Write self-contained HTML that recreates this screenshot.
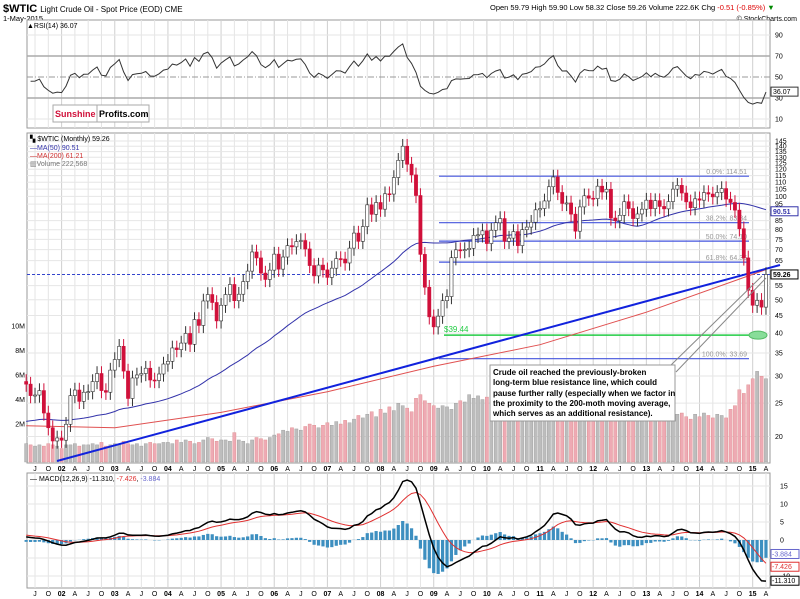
<!DOCTYPE html>
<html><head><meta charset="utf-8"><style>
body{margin:0;background:#fff;width:800px;height:599px;overflow:hidden;font-family:"Liberation Sans",sans-serif}
svg{display:block}
</style></head><body>
<svg id="c" width="800" height="599" viewBox="0 0 800 599" xmlns="http://www.w3.org/2000/svg" font-family="Liberation Sans, sans-serif">
<text x="3" y="12" font-size="11" font-weight="bold">$WTIC <tspan font-size="8" font-weight="normal">Light Crude Oil - Spot Price (EOD) CME</tspan></text>
<text x="3" y="21" font-size="7.5">1-May-2015</text>
<text x="490" y="10" font-size="7.5">Open 59.79  High 59.90  Low 58.32  Close 59.26  Volume 222.6K  Chg <tspan fill="#d00">-0.51 (-0.85%)</tspan> <tspan fill="#080">▼</tspan></text>
<text x="797" y="21" font-size="7" text-anchor="end">© StockCharts.com</text>
<g id="g"></g>
<g>
<rect x="53" y="105" width="96" height="17" fill="#fff" stroke="#aaa"/>
<line x1="97" y1="105" x2="97" y2="122" stroke="#aaa"/>
<text x="55" y="117" font-size="9" font-weight="bold" fill="#d0103a">Sunshine</text>
<text x="99" y="117" font-size="9" font-weight="bold">Profits.com</text>
</g>
<g font-size="7">
<text x="30" y="141">▚ $WTIC (Monthly) 59.26</text>
<text x="30" y="150" fill="#33a">—MA(50) 90.51</text>
<text x="30" y="158" fill="#d03030">—MA(200) 61.21</text>
<text x="30" y="166" fill="#777">▥Volume 222,568</text>
</g>
<text x="27" y="28" font-size="7">▲RSI(14) 36.07</text>
<text x="30" y="481" font-size="7">— MACD(12,26,9) -11.310, <tspan fill="#e03030">-7.426</tspan>, <tspan fill="#66c">-3.884</tspan></text>
<g>
<line x1="670" y1="366" x2="762" y2="276" stroke="#888" stroke-width="1"/>
<line x1="676" y1="372" x2="766" y2="278" stroke="#888" stroke-width="1"/>
<rect x="490" y="365" width="185" height="56" fill="#fff" stroke="#999"/>
<text font-size="8" font-weight="bold" x="493">
<tspan x="493" y="375">Crude oil reached the previously-broken</tspan>
<tspan x="493" y="385">long-term blue resistance line, which could</tspan>
<tspan x="493" y="396">pause further rally (especially when we factor in</tspan>
<tspan x="493" y="406">the proximity to the 200-moth moving average,</tspan>
<tspan x="493" y="416">which serves as an additional resistance).</tspan>
</text>
</g>
</svg>
<script>
const closes=[28.4,26.3,26.4,27.2,23.4,21.2,19.4,19.8,
19.5,21.7,26.3,27.3,25.3,26.9,27.0,28.9,30.5,27.2,26.9,31.2,
33.5,36.6,31.0,25.8,29.6,30.2,30.5,31.6,29.2,29.1,30.4,32.5,
33.1,36.2,35.8,37.4,39.9,37.1,43.8,42.1,49.6,51.8,49.1,43.4,
48.2,51.8,55.4,49.7,51.9,56.5,60.6,68.9,66.2,59.8,57.3,61.0,
67.9,61.4,66.6,71.9,71.3,73.9,74.4,70.3,62.9,58.7,63.1,61.1,
58.1,61.8,65.9,65.7,64.0,70.7,78.2,74.0,81.7,94.5,88.7,96.0,
91.8,101.8,101.6,113.5,127.4,140.0,124.1,115.5,100.6,67.8,54.4,44.6,
41.7,44.8,49.7,51.1,66.3,69.9,69.5,70.0,70.6,77.0,77.3,79.4,
72.9,79.7,83.8,86.2,74.0,75.6,79.0,71.9,80.0,81.4,84.1,91.4,
92.2,97.0,106.7,113.9,102.7,95.4,95.7,88.8,79.2,93.2,100.4,98.8,
98.5,107.1,103.0,104.9,86.5,85.0,88.1,96.5,92.2,86.2,88.9,91.8,
97.5,92.1,97.2,93.5,92.0,96.6,105.0,107.7,102.3,96.4,92.7,98.4,
97.5,102.6,101.6,99.7,102.7,105.4,98.2,96.0,91.2,80.5,66.2,53.3,
48.2,49.8,47.6,59.26];
const volumes=[1.5,1.4,1.3,1.4,1.3,1.5,1.4,1.3,
1.1,1.4,1.4,1.5,1.3,1.4,1.4,1.5,1.4,1.6,1.3,1.4,
1.5,1.4,1.7,1.5,1.4,1.5,1.3,1.5,1.6,1.5,1.5,1.6,
1.6,1.5,1.8,1.6,1.8,1.7,1.5,1.6,1.8,2.0,1.9,1.7,
1.8,1.8,1.7,2.4,1.8,1.7,1.5,1.8,2.0,1.9,1.8,2.0,
2.2,2.3,2.6,2.5,2.8,2.7,2.6,2.9,3.1,3.0,2.8,3.0,
3.2,3.0,3.3,3.1,3.4,3.2,3.5,3.8,3.6,3.9,4.1,3.7,
4.3,4.0,4.5,4.2,4.8,4.6,4.4,4.1,5.2,5.5,5.0,4.8,
4.6,4.4,4.6,4.5,4.3,4.8,5.0,4.9,5.5,5.2,5.4,5.1,
5.3,5.0,5.2,5.4,5.9,5.1,4.9,5.2,5.3,5.0,5.4,5.2,
5.4,5.6,5.8,5.3,6.0,5.7,5.5,5.9,5.6,5.3,5.2,4.9,
5.1,5.3,4.9,5.0,5.4,5.3,4.8,4.9,4.6,4.8,4.4,4.2,
4.0,4.1,3.8,4.2,3.9,4.3,3.5,3.9,4.0,3.7,3.5,3.9,
3.7,4.0,3.8,3.6,3.9,3.8,3.6,4.3,4.6,5.9,5.6,6.3,
6.8,7.4,7.0,6.8];
const ma200Months=[0,20,44,68,92,116,140,167];
const ma200Values=[21.5,21.2,23.5,27,32,37,46,61.2];
const priceTicks=[145,140,135,130,125,120,115,110,105,100,95,90,85,80,75,70,65,55,50,45,40,35,30,25,20];
const volTicks=["10M","8M","6M","4M","2M"];
const volTickVals=[10,8,6,4,2];
const rsiTicks=[90,70,50,30,10];
const macdTicks=[15,10,5,0,-5,-10];
const fibLevels=[114.51,83.84,74.10,64.36,33.69];
const fibLabels=["0.0%: 114.51","38.2%: 83.84","50.0%: 74.10","61.8%: 64.36","100.0%: 33.69"];
const supportLevel=39.44;
const firstYear=2001, firstMonth=4; // May 2001

const NS="http://www.w3.org/2000/svg";
const G=document.getElementById('g');
function mk(tag,a,parent){const e=document.createElementNS(NS,tag);for(const k in a)e.setAttribute(k,a[k]);(parent||G).appendChild(e);return e;}
const L=27,R=770;
const X=i=>61.6+(i-8)*4.43;
const PY=p=>141+343.4*Math.log10(145/p);
const VY=v=>462-12.25*v;
const VLY=v=>448.5-12.25*v;
const RY=r=>35+(90-r)*1.05;
const MY=m=>540-m*3.6;

[[20,128],[133,463],[473,588]].forEach((p,k)=>{
 const r=mk('rect',{x:L,y:p[0],width:R-L,height:p[1]-p[0],fill:'#fff',stroke:'#999','stroke-width':1});
 
 
});
const mlabels=['J','F','M','A','M','J','J','A','S','O','N','D'];
for(let i=0;i<closes.length;i++){
 const m=(firstMonth+i)%12, y=firstYear+Math.floor((firstMonth+i)/12);
 if(m%3!==0)continue;
 const x=X(i);
 [[20,128],[133,463],[473,588]].forEach(p=>{
  const ln=mk('line',{x1:x,x2:x,y1:p[0],y2:p[1],stroke:m===0?'#cfcfcf':'#e4e4e4','stroke-width':1});
  
  
 });
 [471,596].forEach(yy=>{
  const t=mk('text',{x:x,y:yy,'font-size':7,'text-anchor':'middle','font-weight':m===0?'bold':'normal'});
  t.textContent=m===0?String(y).slice(2):mlabels[m];
  
  
 });
}
priceTicks.forEach(p=>{
 const y=PY(p);
 const ln=mk('line',{x1:L,x2:R,y1:y,y2:y,stroke:'#e6e6e6'});
 
 
 const t=mk('text',{x:775,y:y+2.5,'font-size':7});
 t.textContent=p;
 
 
});
volTicks.forEach((s,k)=>{
 const t=mk('text',{x:25,y:VLY(volTickVals[k])+2.5,'font-size':7,'text-anchor':'end'});
 t.textContent=s;
 
 
});
volumes.forEach((v,i)=>{
 const up=i===0||closes[i]>=closes[i-1];
 const b=mk('rect',{x:X(i)-1.6,y:VY(v),width:3.2,height:462-VY(v),fill:up?'#bdbdbd':'#eeaab4',stroke:up?'#999':'#d88'});
 b.setAttribute('stroke-width','0.4');
 
 
});
fibLevels.forEach((f,k)=>{
 const y=PY(f);
 const ln=mk('line',{x1:439,x2:749,y1:y,y2:y,stroke:'#4455dd','stroke-width':1.2});
 
 
 const t=mk('text',{x:747,y:y-2,'font-size':7,'text-anchor':'end',fill:'#999'});
 t.textContent=fibLabels[k];
 
 
});
{const y=PY(supportLevel);
 const ln=mk('line',{x1:444,x2:766,y1:y,y2:y,stroke:'#22cc44','stroke-width':1.5});
 
 
 const t=mk('text',{x:444,y:y-3,'font-size':8,fill:'#22cc44'});
 t.textContent='$39.44';
 
 
 const e=mk('ellipse',{cx:758,cy:y,rx:9,ry:4,fill:'#88dd99',stroke:'#55bb66'});
 
 
}
{const y=PY(closes[closes.length-1]);
 const ln=mk('line',{x1:L,x2:R,y1:y,y2:y,stroke:'#3344cc','stroke-dasharray':'3,2'});
 
 }
{let pts=ma200Months.map((m,k)=>X(m)+','+PY(ma200Values[k]).toFixed(1)).join(' ');
 const pl=mk('polyline',{points:pts,fill:'none',stroke:'#e05050','stroke-width':1});
 
 }
{let pts=[];for(let i=0;i<closes.length;i++){const s=closes.slice(Math.max(0,i-49),i+1);let a=s.reduce((x,y)=>x+y,0)/s.length;if(i<49)a=(a*s.length+22*(50-s.length))/50;pts.push(X(i)+','+PY(a).toFixed(1));}
 const pl=mk('polyline',{points:pts.join(' '),fill:'none',stroke:'#3333aa','stroke-width':1});
 
 }
{const tl=mk('line',{x1:57,y1:461,x2:780,y2:265,stroke:'#1122dd','stroke-width':2});
 
 }
closes.forEach((c,i)=>{
 const o=i===0?28.9:closes[i-1];const up=c>=o;
 const hi=Math.max(o,c)*1.05, lo=Math.min(o,c)*0.95;
 const x=X(i);
 const w=mk('line',{x1:x,x2:x,y1:PY(hi),y2:PY(lo),stroke:up?'#333':'#d0103a'});
 
 
 const t=PY(Math.max(o,c)),b=PY(Math.min(o,c));
 const r=mk('rect',{x:x-1.6,y:t,width:3.2,height:Math.max(1,b-t),fill:up?'#fff':'#d0103a',stroke:up?'#333':'#d0103a','stroke-width':0.6});
 
 
});
[[90.51,'90.51','#33a'],[59.26,'59.26','#000']].forEach(d=>{
 const y=PY(d[0]);
 const r=mk('rect',{x:771,y:y-4.5,width:27,height:9,fill:'#fff',stroke:d[2]});
 
 
 const t=mk('text',{x:773,y:y+2.5,'font-size':7,'font-weight':'bold',fill:d[2]});
 t.textContent=d[1];
 
 
});
rsiTicks.forEach(r=>{
 const y=RY(r);
 const st=(r===70||r===30)?{stroke:'#aaa','stroke-width':1.5}:r===50?{stroke:'#999','stroke-dasharray':'6,2,1,2'}:{stroke:'#e6e6e6'};
 const ln=mk('line',Object.assign({x1:L,x2:R,y1:y,y2:y},st));
 
 
 const t=mk('text',{x:775,y:y+2.5,'font-size':7});
 t.textContent=r;
 
 
});
{let ag=0.9,al=0.9,pts=[];
 for(let i=1;i<closes.length;i++){const d=closes[i]-closes[i-1];ag=(ag*13+Math.max(d,0))/14;al=(al*13+Math.max(-d,0))/14;const r=al===0?100:100-100/(1+ag/al);pts.push(X(i)+','+RY(r).toFixed(1));}
 const pl=mk('polyline',{points:pts.join(' '),fill:'none',stroke:'#333','stroke-width':1});
 
 }
{const r=mk('rect',{x:771,y:RY(36.07)-4.5,width:27,height:9,fill:'#fff',stroke:'#333'});
 
 
 const t=mk('text',{x:773,y:RY(36.07)+2.5,'font-size':7});t.textContent='36.07';
 
 }
macdTicks.forEach(m=>{
 const y=MY(m);
 const ln=mk('line',{x1:L,x2:R,y1:y,y2:y,stroke:'#e6e6e6'});
 
 
 if(m%5===0&&m!==-5){const t=mk('text',{x:780,y:y+2.5,'font-size':7});t.textContent=m;
 
 }
});
{let e12=closes[0]*0.97,e26=closes[0]*0.94,sig=1.5,mp=[],sp=[];
 const k12=2/13,k26=2/27,k9=2/10;
 closes.forEach((c,i)=>{e12+=k12*(c-e12);e26+=k26*(c-e26);const m=e12-e26;sig+=k9*(m-sig);
  const h=m-sig,x=X(i);
  const b=mk('rect',{x:x-1.6,y:Math.min(MY(h),MY(0)),width:3.2,height:Math.abs(MY(h)-MY(0)),fill:'#3d8fc0'});
  
  
  mp.push(x+','+MY(m).toFixed(1));sp.push(x+','+MY(sig).toFixed(1));});
 const s=mk('polyline',{points:sp.join(' '),fill:'none',stroke:'#e03030','stroke-width':1});
 
 
 const m=mk('polyline',{points:mp.join(' '),fill:'none',stroke:'#000','stroke-width':1.5});
 
 }
[[-3.884,'-3.884','#66c'],[-7.426,'-7.426','#e03030'],[-11.31,'-11.310','#000']].forEach(d=>{
 const y=MY(d[0]);
 const r=mk('rect',{x:771,y:y-4.5,width:28,height:9,fill:'#fff',stroke:d[2]});
 
 
 const t=mk('text',{x:772,y:y+2.5,'font-size':7,fill:d[2]});t.textContent=d[1];
 
 
});
</script>
</body></html>
